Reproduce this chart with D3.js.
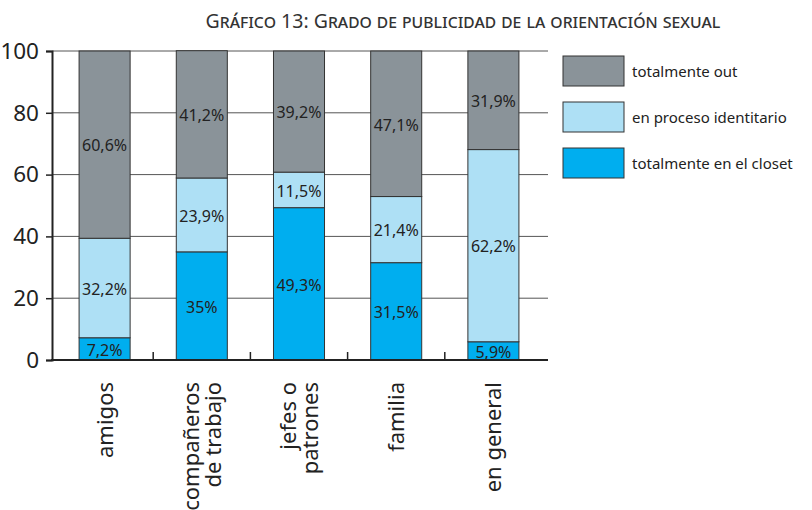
<!DOCTYPE html>
<html>
<head>
<meta charset="utf-8">
<script src="https://cdn.jsdelivr.net/npm/d3@7"></script>
<style>
  html, body { margin: 0; padding: 0; background: #fff; }
  svg { display: block; font-family: "Noto Sans", "Open Sans", sans-serif; }
</style>
</head>
<body>
<svg id="chart" width="812" height="510"></svg>
<script>
// Categories (multi-line labels split on \n)
const categories = ["amigos", "compañeros\nde trabajo", "jefes o\npatrones", "familia", "en general"];
// Series values, in percent
const closet   = [7.2, 35, 49.3, 31.5, 5.9];
const proceso  = [32.2, 23.9, 11.5, 21.4, 62.2];
const out      = [60.6, 41.2, 39.2, 47.1, 31.9];
const seriesNames = ["totalmente en el closet", "en proceso identitario", "totalmente out"];
const seriesColors = ["#00aeef", "#aee0f5", "#8a9399"];
const yTicks = [0, 20, 40, 60, 80, 100];

const svg = d3.select("#chart");

const rows = categories.map((c, i) => ({ cat: c, closet: closet[i], proceso: proceso[i], out: out[i] }));
const keys = ["closet", "proceso", "out"];
const stack = d3.stack().keys(keys)(rows);

const x = d3.scaleBand().domain(categories).range([56, 542]).paddingInner(0.475).paddingOuter(0.2375);
const y = d3.scaleLinear().domain([0, 100]).range([360, 51]);
const xLeft = 52, xRight = 548;

// Title (small caps)
svg.append("text")
  .attr("x", 463).attr("y", 28)
  .attr("text-anchor", "middle")
  .style("font-variant", "small-caps")
  .attr("font-size", 19.5)
  .attr("fill", "#333")
  .text("Gráfico 13: Grado de publicidad de la orientación sexual");

// Gridlines
svg.append("g").selectAll("line").data(yTicks.slice(1)).join("line")
  .attr("x1", xLeft).attr("x2", xRight)
  .attr("y1", d => y(d)).attr("y2", d => y(d))
  .attr("stroke", "#555").attr("stroke-width", 1);

// Bars
const fmt = v => String(v).replace(".", ",") + "%";
stack.forEach((s, si) => {
  const g = svg.append("g");
  g.selectAll("rect").data(s).join("rect")
    .attr("x", d => x(d.data.cat))
    .attr("width", x.bandwidth())
    .attr("y", d => y(d[1]))
    .attr("height", d => y(d[0]) - y(d[1]))
    .attr("fill", seriesColors[si])
    .attr("stroke", "#333").attr("stroke-width", 1);
  g.selectAll("text").data(s).join("text")
    .attr("x", d => x(d.data.cat) + x.bandwidth() / 2)
    .attr("y", d => (y(d[0]) + y(d[1])) / 2 + 1)
    .attr("dy", "0.36em")
    .attr("text-anchor", "middle")
    .attr("font-size", 16)
    .attr("fill", "#222")
    .text(d => fmt(d.data[keys[si]]));
});

// Y axis
const yAxis = svg.append("g").attr("transform", `translate(${xLeft},0)`)
  .call(d3.axisLeft(y).tickValues(yTicks).tickSize(6).tickPadding(7));
yAxis.select(".domain").attr("stroke", "#222").attr("stroke-width", 2);
yAxis.selectAll(".tick line").attr("stroke", "#222").attr("stroke-width", 1.5);
yAxis.selectAll(".tick text").attr("font-size", 22.5).attr("fill", "#222")
  .attr("font-family", "'Noto Sans', sans-serif");

// X axis baseline with small separators between categories
svg.append("line").attr("x1", xLeft - 1).attr("x2", xRight)
  .attr("y1", y(0)).attr("y2", y(0)).attr("stroke", "#222").attr("stroke-width", 2);
const seps = categories.slice(0, -1).map(c => x(c) + x.bandwidth() + x.step() * x.paddingInner() / 2);
svg.append("g").selectAll("line").data(seps).join("line")
  .attr("x1", d => d).attr("x2", d => d)
  .attr("y1", y(0)).attr("y2", y(0) - 8)
  .attr("stroke", "#222").attr("stroke-width", 1.5);

// Category labels, rotated
categories.forEach(c => {
  const lines = c.split("\n");
  const cx = x(c) + x.bandwidth() / 2;
  const lh = 22;
  lines.forEach((ln, li) => {
    const off = (li - (lines.length - 1) / 2) * lh;
    svg.append("text")
      .attr("transform", `translate(${cx + off + 8},382) rotate(-90)`)
      .attr("text-anchor", "end")
      .attr("font-size", 22)
      .attr("fill", "#222")
      .text(ln);
  });
});

// Legend
const legendItems = [2, 1, 0];
const lg = svg.append("g");
legendItems.forEach((si, i) => {
  const yy = 56 + i * 46;
  lg.append("rect").attr("x", 563).attr("y", yy).attr("width", 61).attr("height", 30)
    .attr("fill", seriesColors[si]).attr("stroke", "#333").attr("stroke-width", 1);
  lg.append("text").attr("x", 632).attr("y", yy + 16).attr("dy", "0.36em")
    .attr("font-size", 15).attr("fill", "#222").text(seriesNames[si]);
});
</script>
</body>
</html>
